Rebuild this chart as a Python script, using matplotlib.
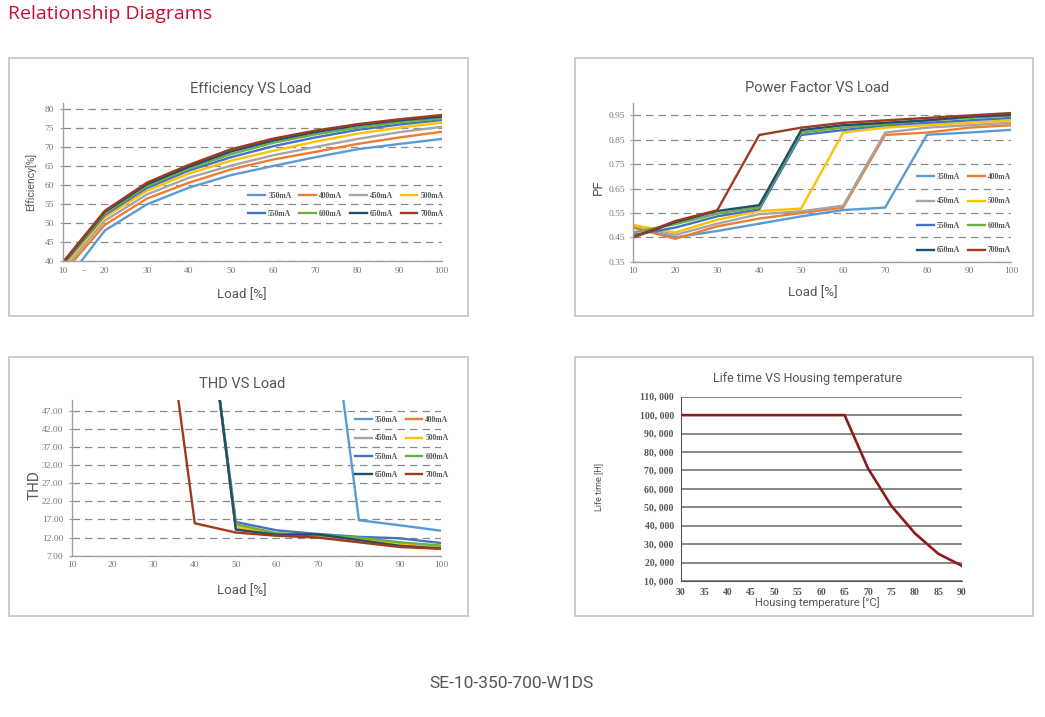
import numpy as np
import matplotlib.pyplot as plt
from matplotlib.patches import Rectangle

W, H = 1045, 717

currents = ["350mA", "400mA", "450mA", "500mA", "550mA", "600mA", "650mA", "700mA"]
colors = ["#5B9BD5", "#ED7D31", "#A5A5A5", "#FFC000", "#4472C4", "#70AD47", "#1F4E6E", "#9E3A1E"]

# efficiency [%] at load 10..100
load = [10, 20, 30, 40, 50, 60, 70, 80, 90, 100]
eff_350 = [33.7, 48.1, 55.0, 59.4, 62.7, 65.1, 67.4, 69.5, 70.9, 72.2]
eff_400 = [36.8, 49.6, 56.5, 60.7, 64.2, 66.8, 68.8, 70.9, 72.6, 74.1]
eff_450 = [37.6, 50.7, 57.6, 62.0, 65.2, 67.9, 70.1, 72.2, 74.0, 75.4]
eff_500 = [38.4, 51.6, 58.6, 63.1, 66.5, 69.1, 71.5, 73.6, 75.2, 76.5]
eff_550 = [39.0, 52.2, 59.3, 63.9, 67.4, 70.3, 72.6, 74.6, 76.0, 77.2]
eff_600 = [39.3, 52.6, 59.8, 64.4, 68.2, 71.2, 73.4, 75.2, 76.6, 77.6]
eff_650 = [39.5, 53.0, 60.3, 64.9, 68.9, 71.8, 74.0, 75.8, 77.1, 78.1]
eff_700 = [39.7, 53.3, 60.7, 65.4, 69.5, 72.3, 74.4, 76.1, 77.4, 78.5]

# power factor at load 10..100
pf_350 = [0.49, 0.45, 0.476, 0.506, 0.536, 0.562, 0.572, 0.871, 0.88, 0.891]
pf_400 = [0.49, 0.444, 0.495, 0.527, 0.55, 0.572, 0.87, 0.88, 0.90, 0.91]
pf_450 = [0.50, 0.46, 0.506, 0.545, 0.557, 0.58, 0.88, 0.90, 0.91, 0.92]
pf_500 = [0.50, 0.47, 0.522, 0.558, 0.568, 0.88, 0.90, 0.91, 0.92, 0.93]
pf_550 = [0.46, 0.49, 0.536, 0.565, 0.87, 0.89, 0.91, 0.92, 0.93, 0.94]
pf_600 = [0.47, 0.504, 0.547, 0.574, 0.88, 0.90, 0.915, 0.93, 0.94, 0.95]
pf_650 = [0.45, 0.512, 0.558, 0.582, 0.89, 0.91, 0.92, 0.93, 0.945, 0.952]
pf_700 = [0.451, 0.517, 0.561, 0.87, 0.90, 0.92, 0.93, 0.94, 0.95, 0.96]

# THD at load 30..100 (values above 50 run off the top)
thd_load = [30, 40, 50, 60, 70, 80, 90, 100]
thd_350 = [np.nan, np.nan, np.nan, np.nan, 104.3, 16.8, 15.4, 13.9]
thd_400 = [np.nan, 104.0, 14.5, 12.9, 12.3, 11.5, 10.2, 9.4]
thd_450 = [np.nan, 104.0, 14.8, 13.0, 12.4, 11.6, 10.3, 9.4]
thd_500 = [np.nan, 104.0, 15.0, 13.1, 12.5, 11.7, 10.4, 9.3]
thd_550 = [np.nan, 102.7, 16.3, 14.0, 13.0, 12.2, 11.8, 10.5]
thd_600 = [np.nan, 104.0, 15.7, 13.2, 12.6, 12.0, 10.7, 9.8]
thd_650 = [np.nan, 106.0, 14.2, 12.8, 12.9, 11.3, 9.7, 9.0]
thd_700 = [101.0, 15.95, 13.4, 12.5, 12.0, 10.7, 9.4, 8.9]

# life time vs housing temperature
temp = [30, 35, 40, 45, 50, 55, 60, 65, 70, 75, 80, 85, 90]
life = [100000, 100000, 100000, 100000, 100000, 100000, 100000, 100000,
        71100, 50700, 35900, 24800, 18300]

eff = [eff_350, eff_400, eff_450, eff_500, eff_550, eff_600, eff_650, eff_700]
pf = [pf_350, pf_400, pf_450, pf_500, pf_550, pf_600, pf_650, pf_700]
thd = [thd_350, thd_400, thd_450, thd_500, thd_550, thd_600, thd_650, thd_700]

fig = plt.figure(figsize=(W / 100, H / 100), dpi=100)
fig.patch.set_facecolor("white")


def rect(x0, y0, x1, y1):
    return [x0 / W, 1 - y1 / H, (x1 - x0) / W, (y1 - y0) / H]


def ftext(x, y, s, **kw):
    fig.text(x / W, 1 - y / H, s, ha="center", va="center", **kw)


# panel frames
for x0, y0, x1, y1 in [(9, 58, 468, 316), (575, 58, 1033, 316),
                       (9, 357, 468, 616), (575, 357, 1033, 616)]:
    fig.patches.append(Rectangle((x0 / W, 1 - y1 / H), (x1 - x0) / W, (y1 - y0) / H,
                                 transform=fig.transFigure, fill=False,
                                 edgecolor="#c4c4c4", lw=1.2))

tickfont = dict(family="Liberation Serif", size=6.8)
legfont = dict(family="Liberation Serif", size=5.5, weight="bold")
dash = (0, (6, 4))


def style_ax(ax):
    for s in ["top", "right"]:
        ax.spines[s].set_visible(False)
    for s in ["left", "bottom"]:
        ax.spines[s].set_color("#a0a0a0")
        ax.spines[s].set_linewidth(1.0)
    ax.tick_params(axis="both", colors="#a0a0a0", labelcolor="#777777", length=2.5, width=0.8)
    ax.tick_params(axis="x", length=0, pad=4)
    for lab in ax.get_xticklabels() + ax.get_yticklabels():
        lab.set_fontfamily(tickfont["family"])
        lab.set_fontsize(tickfont["size"])
    ax.yaxis.grid(True, linestyle=dash, color="#8a8a8a", lw=0.9)
    ax.set_axisbelow(True)
    ax.set_facecolor("none")


def add_legend(ax, ncol, xc, yc, spacing):
    # legend is filled row by row in the reference
    h, l = ax.get_legend_handles_labels()
    nrow = len(h) // ncol
    order = [r * ncol + c for c in range(ncol) for r in range(nrow)]
    leg = ax.legend([h[i] for i in order], [l[i] for i in order],
                    ncol=ncol, loc="center", bbox_to_anchor=(xc, yc), frameon=False,
                    prop=legfont, handlelength=2.2, handletextpad=0.4,
                    columnspacing=1.0, labelspacing=spacing, borderpad=0)
    for t in leg.get_texts():
        t.set_color("#555555")
    return leg


# --- Efficiency VS Load ---
ax1 = fig.add_axes(rect(62.7, 102.7, 441.7, 261.3))
for vals, c, lab in zip(eff, colors, currents):
    ax1.plot(load, vals, color=c, lw=1.7, label=lab)
ax1.set_xlim(10, 100)
ax1.set_ylim(40, 81.75)
ax1.set_xticks(range(10, 101, 10))
ax1.set_yticks(range(40, 81, 5))
ax1.set_xticks([15], ["-"], minor=True)
style_ax(ax1)
ax1.tick_params(axis="x", which="minor", length=0, labelsize=6.5, labelcolor="#777777")
add_legend(ax1, 4, 0.7475, 0.355, 1.35)
ftext(251, 89, "Efficiency VS Load", fontsize=10.5, color="#555555", family="Roboto")
ftext(242, 295, "Load [%]", fontsize=9.5, color="#555555", family="Roboto")
ftext(31, 182, "Efficiency[%]", fontsize=7.5, color="#555555", family="Roboto", rotation=90)

# --- Power Factor VS Load ---
ax2 = fig.add_axes(rect(633.3, 103.3, 1011, 261.7))
for vals, c, lab in zip(pf, colors, currents):
    ax2.plot(load, vals, color=c, lw=1.7, label=lab)
ax2.set_xlim(10, 100)
ax2.set_ylim(0.35, 1.0)
ax2.set_xticks(range(10, 101, 10))
ax2.set_yticks(np.arange(0.35, 0.96, 0.1))
ax2.set_yticklabels([f"{v:.2f}" for v in np.arange(0.35, 0.96, 0.1)])
style_ax(ax2)
add_legend(ax2, 2, 0.8756, 0.304, 2.15)
ftext(817, 88, "Power Factor VS Load", fontsize=10.5, color="#555555", family="Roboto")
ftext(813, 293, "Load [%]", fontsize=9.5, color="#555555", family="Roboto")
ftext(598, 187, "PF", fontsize=9.5, color="#555555", family="Roboto", rotation=90)

# --- THD VS Load ---
ax3 = fig.add_axes(rect(71.7, 400, 441, 555.7))
for vals, c, lab in zip(thd, colors, currents):
    ax3.plot(thd_load, vals, color=c, lw=1.7, label=lab)
ax3.set_xlim(10, 100)
ax3.set_ylim(7, 50)
ax3.set_xticks(range(10, 101, 10))
ax3.set_yticks(range(7, 48, 5))
ax3.set_yticklabels([f"{v:.2f}" for v in range(7, 48, 5)])
style_ax(ax3)
add_legend(ax3, 2, 0.8936, 0.695, 1.35)
ftext(242, 384, "THD VS Load", fontsize=10.5, color="#555555", family="Roboto")
ftext(242, 591, "Load [%]", fontsize=9.5, color="#555555", family="Roboto")
ftext(35, 485, "THD", fontsize=11, color="#555555", family="Roboto", rotation=90)

# --- Life time VS Housing temperature ---
ax4 = fig.add_axes(rect(680.7, 396.7, 961.7, 581))
ax4.plot(temp, life, color="#8B1C1C", lw=1.9)
ax4.set_xlim(30, 90)
ax4.set_ylim(10000, 110000)
ax4.set_xticks(range(30, 91, 5))
ax4.set_yticks(range(10000, 110001, 10000))
ax4.set_yticklabels([f"{v:,}".replace(",", ", ") for v in range(10000, 110001, 10000)])
for s in ["top", "right"]:
    ax4.spines[s].set_visible(False)
for s in ["left", "bottom"]:
    ax4.spines[s].set_color("#555555")
ax4.tick_params(axis="both", length=0, labelcolor="#555555", pad=5)
for lab in ax4.get_xticklabels() + ax4.get_yticklabels():
    lab.set_fontfamily("Liberation Serif")
    lab.set_fontsize(7)
    lab.set_fontweight("bold")
ax4.yaxis.grid(True, color="#666666", lw=1.1)
ax4.set_axisbelow(True)
ax4.set_facecolor("none")
ftext(808, 378, "Life time VS Housing temperature", fontsize=9, color="#555555", family="Roboto")
ftext(817, 603, "Housing temperature [°C]", fontsize=8, color="#555555", family="Roboto")
ftext(599, 487, "Life time [H]", fontsize=6.5, color="#555555", family="Roboto", rotation=90)

# headings
fig.text(8 / W, 1 - 14 / H, "Relationship Diagrams", ha="left", va="center",
         fontsize=14, color="#C8102E", family="Open Sans")
ftext(512, 684, "SE-10-350-700-W1DS", fontsize=12.5, color="#555555", family="Roboto")

fig.savefig("out.png", dpi=100)
